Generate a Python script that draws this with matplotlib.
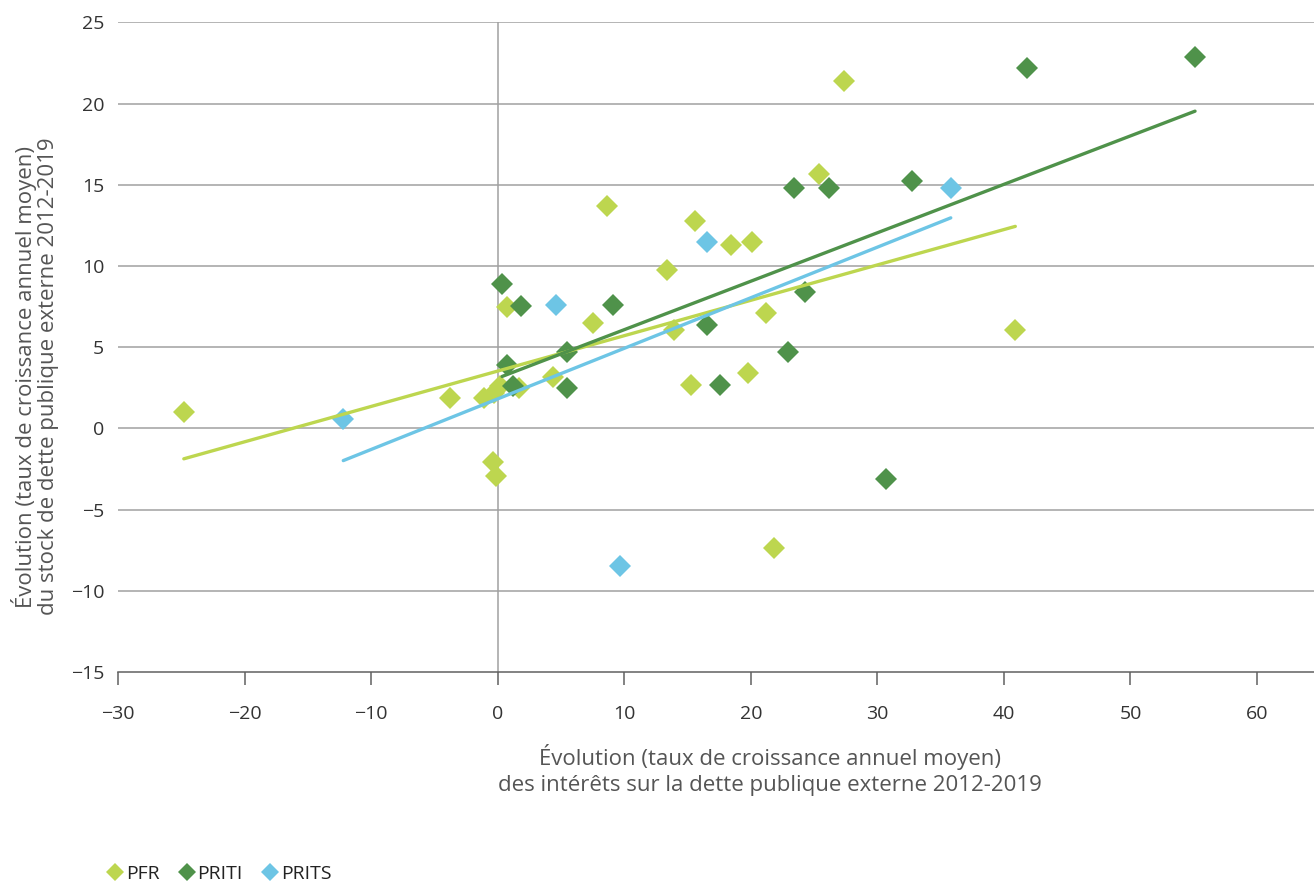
import numpy as np
import matplotlib
matplotlib.use("Agg")
import matplotlib.pyplot as plt
from matplotlib.lines import Line2D

plt.rcParams['font.family'] = ['Open Sans', 'DejaVu Sans']

# Average annual growth: interest on external public debt (x) vs external debt stock (y), 2012-2019
pfr_x = [-24.8, -3.8, -1.1, -0.3, 0.2, 0.7, 1.7, 4.4, 7.5, 8.6, 13.4, 13.9, 15.3, 15.6,
         18.4, 20.1, 21.2, 19.8, 25.4, 27.4, 21.8, 40.9, -0.4, -0.1]
pfr_y = [1.0, 1.85, 1.9, 2.2, 2.6, 7.5, 2.5, 3.2, 6.5, 13.7, 9.75, 6.05, 2.7, 12.8,
         11.3, 11.5, 7.1, 3.4, 15.7, 21.4, -7.35, 6.05, -2.05, -2.9]

priti_x = [0.35, 1.85, 0.7, 1.2, 5.5, 5.5, 9.1, 16.5, 17.6, 22.9, 23.4, 26.2, 24.3, 30.7,
           32.7, 41.8, 55.1]
priti_y = [8.9, 7.55, 3.9, 2.6, 4.7, 2.5, 7.6, 6.4, 2.7, 4.7, 14.8, 14.8, 8.4, -3.1,
           15.25, 22.2, 22.9]

prits_x = [-12.2, 4.6, 16.5, 9.7, 35.8]
prits_y = [0.6, 7.6, 11.5, -8.45, 14.8]

series = [
    ("PFR", pfr_x, pfr_y, "#bdd64f"),
    ("PRITI", priti_x, priti_y, "#4f924a"),
    ("PRITS", prits_x, prits_y, "#6dc5e5"),
]

x_ticks = [-30, -20, -10, 0, 10, 20, 30, 40, 50, 60]
y_ticks = [-15, -10, -5, 0, 5, 10, 15, 20, 25]

fig = plt.figure(figsize=(13.14, 8.82), dpi=100)
ax = fig.add_axes([0.0898, 0.238, 0.9102, 0.7365])

grid_col = "#a0a0a0"
for v in y_ticks[1:]:
    ax.axhline(v, color=grid_col, lw=1.1, zorder=0)
ax.axvline(0, color=grid_col, lw=1.1, zorder=0)

for name, xs, ys, col in series:
    ax.plot(xs, ys, linestyle="none", marker="D", markersize=11.5, color=col,
            markeredgewidth=0, zorder=3)

# Linear trend per group, spanning the group's x range
for name, xs, ys, col in series:
    xs_a = np.asarray(xs)
    slope, icpt = np.polyfit(xs_a, np.asarray(ys), 1)
    xr = np.array([xs_a.min(), xs_a.max()])
    ax.plot(xr, slope * xr + icpt, color=col, lw=2.4, solid_capstyle="round", zorder=4)

ax.set_xlim(-30, 64.5)
ax.set_ylim(-15, 25)
ax.set_xticks(x_ticks)
ax.set_yticks(y_ticks)
ax.set_xticklabels([str(t).replace("-", "\u2212") for t in x_ticks])
ax.set_yticklabels([str(t).replace("-", "\u2212") for t in y_ticks])

for s in ["top", "right", "left"]:
    ax.spines[s].set_visible(False)
ax.spines["bottom"].set_color("#606060")
ax.spines["bottom"].set_linewidth(1.1)
ax.tick_params(axis="x", length=9, width=1.1, color="#606060", pad=15,
               labelsize=14, labelcolor="#333333")
ax.tick_params(axis="y", length=0, pad=10, labelsize=14, labelcolor="#333333")

fig.text(0.586, 0.127,
         "Évolution (taux de croissance annuel moyen)\ndes intérêts sur la dette publique externe 2012-2019",
         ha="center", va="center", fontsize=16, color="#555555", linespacing=1.3)
fig.text(0.0265, 0.573,
         "Évolution (taux de croissance annuel moyen)\ndu stock de dette publique externe 2012-2019",
         ha="center", va="center", rotation=90, fontsize=16, color="#555555", linespacing=1.05)

handles = [Line2D([], [], linestyle="none", marker="D", markersize=9, color=c,
                  markeredgewidth=0, label=n) for n, _, _, c in series]
fig.legend(handles=handles, loc="lower left", bbox_to_anchor=(0.067, -0.021), ncol=3,
           frameon=False, fontsize=14, handletextpad=0.05, columnspacing=0.9,
           handlelength=1.0, labelcolor="#222222")

fig.savefig("out.png", dpi=100)
